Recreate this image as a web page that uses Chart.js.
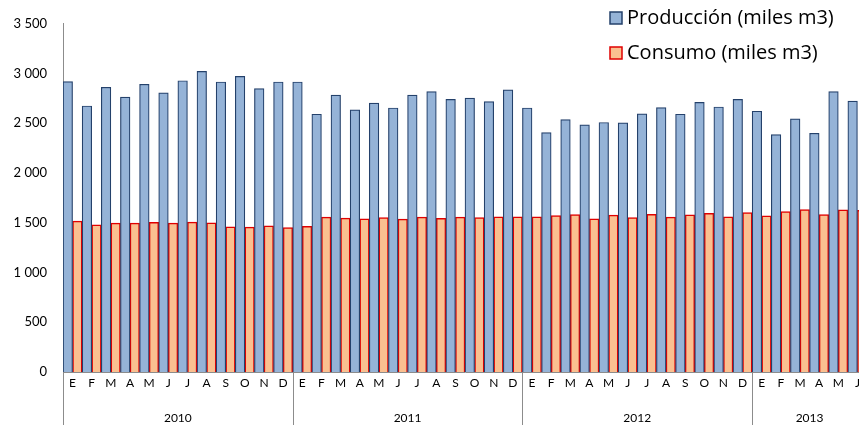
<!DOCTYPE html>
<html>
<head>
<meta charset="utf-8">
<script src="https://cdn.jsdelivr.net/npm/chart.js@4"></script>
<style>
  html, body { margin: 0; padding: 0; background: #fff; overflow: hidden; }
  #wrap { width: 870px; height: 425px; }
</style>
</head>
<body>
<div id="wrap"><canvas id="chart" width="870" height="425"></canvas></div>
<script>
// Month initials and the years they belong to
const months = ['E', 'F', 'M', 'A', 'M', 'J', 'J', 'A', 'S', 'O', 'N', 'D'];
const years = ['2010', '2011', '2012', '2013'];
const monthsPerYear = [12, 12, 12, 6];

// Series values (miles m3)
const produccion = [
  2918, 2674, 2862, 2763, 2892, 2806, 2928, 3021, 2915, 2971, 2849, 2915,
  2915, 2591, 2783, 2634, 2703, 2654, 2783, 2819, 2740, 2753, 2717, 2836,
  2654, 2406, 2538, 2485, 2508, 2505, 2594, 2657, 2591, 2710, 2664, 2740,
  2621, 2386, 2545, 2399, 2819, 2723
];
const consumo = [
  1517, 1480, 1497, 1497, 1504, 1497, 1507, 1500, 1460, 1457, 1470, 1451,
  1464, 1557, 1547, 1540, 1553, 1537, 1557, 1544, 1557, 1553, 1560, 1560,
  1560, 1573, 1583, 1540, 1577, 1553, 1586, 1557, 1580, 1596, 1560, 1603,
  1570, 1613, 1633, 1583, 1629, 1626
];

// Y axis ticks
const yMax = 3500;
const yStep = 500;

// Build category labels from the month initials
const labels = [];
monthsPerYear.forEach(count => {
  for (let i = 0; i < count; i++) labels.push(months[i]);
});

const axisGray = '#8c8c8c';

// Thousands with a space, like "3 500"
function formatThousands(v) {
  return String(v).replace(/\B(?=(\d{3})+(?!\d))/g, ' ');
}

// Year row and year separators under the month labels
const yearGroups = {
  id: 'yearGroups',
  afterDraw(chart) {
    const ctx = chart.ctx;
    const x = chart.scales.x;
    const half = (x.getPixelForValue(1) - x.getPixelForValue(0)) / 2;
    ctx.save();
    ctx.strokeStyle = axisGray;
    ctx.lineWidth = 1;
    ctx.fillStyle = '#000';
    ctx.font = '12px Lato';
    ctx.textAlign = 'center';
    ctx.textBaseline = 'middle';
    let start = 0;
    years.forEach((year, i) => {
      const count = monthsPerYear[i];
      const left = Math.round(x.getPixelForValue(start) - half) + 0.5;
      ctx.beginPath();
      ctx.moveTo(left, chart.chartArea.bottom);
      ctx.lineTo(left, chart.height);
      ctx.stroke();
      const center = (x.getPixelForValue(start) + x.getPixelForValue(start + count - 1)) / 2;
      ctx.fillText(year, center, chart.chartArea.bottom + 46);
      start += count;
    });
    ctx.restore();
  }
};

// Legend stacked at the top right, inside the plot
const boxLegend = {
  id: 'boxLegend',
  afterDraw(chart) {
    const ctx = chart.ctx;
    const left = 610;
    const rows = [18, 53];
    ctx.save();
    ctx.font = '20px "Open Sans"';
    ctx.textBaseline = 'middle';
    chart.data.datasets.forEach((ds, i) => {
      const y = rows[i];
      ctx.fillStyle = ds.backgroundColor;
      ctx.fillRect(left, y - 6, 12, 12);
      ctx.strokeStyle = ds.borderColor;
      ctx.lineWidth = 1.5;
      ctx.strokeRect(left, y - 6, 12, 12);
      ctx.fillStyle = '#000';
      ctx.fillText(ds.label, left + 17, y);
    });
    ctx.restore();
  }
};

const ctx = document.getElementById('chart').getContext('2d');
new Chart(ctx, {
  type: 'bar',
  data: {
    labels: labels,
    datasets: [
      {
        label: 'Producción (miles m3)',
        data: produccion,
        backgroundColor: '#95b3d7',
        borderColor: '#24416b',
        borderWidth: 1.2
      },
      {
        label: 'Consumo (miles m3)',
        data: consumo,
        backgroundColor: '#fac090',
        borderColor: '#e00000',
        borderWidth: 1.5
      }
    ]
  },
  options: {
    responsive: false,
    animation: false,
    layout: { padding: { top: 19, right: 3, left: 0, bottom: 0 } },
    datasets: {
      bar: { categoryPercentage: 1.0, barPercentage: 1.0 }
    },
    plugins: {
      legend: { display: false },
      tooltip: { enabled: false }
    },
    scales: {
      x: {
        grid: { display: false, drawTicks: false },
        border: { display: true, color: axisGray },
        ticks: {
          autoSkip: false,
          maxRotation: 0,
          padding: 4,
          color: '#000',
          font: { family: 'Lato', size: 12 }
        },
        afterFit: scale => { scale.height = 53; }
      },
      y: {
        min: 0,
        max: yMax,
        grid: { display: false, drawTicks: false },
        border: { display: true, color: axisGray },
        ticks: {
          stepSize: yStep,
          padding: 16,
          color: '#000',
          font: { family: 'Lato', size: 13 },
          callback: v => formatThousands(v)
        },
        afterFit: scale => { scale.width = 63; }
      }
    }
  },
  plugins: [yearGroups, boxLegend]
});
</script>
</body>
</html>
